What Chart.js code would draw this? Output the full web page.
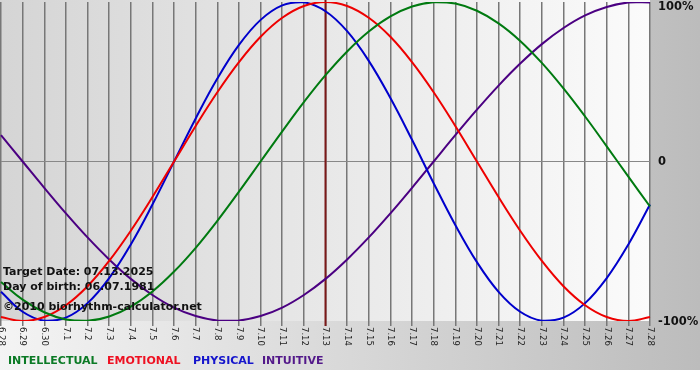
<!DOCTYPE html>
<html>
<head>
<meta charset="utf-8">
<script src="https://cdn.jsdelivr.net/npm/chart.js@4/dist/chart.umd.min.js"></script>
<style>
html,body{margin:0;padding:0;background:#fff;}
#wrap{width:700px;height:380px;position:relative;}
</style>
</head>
<body>
<div id="wrap"><canvas id="c" width="700" height="380"></canvas></div>
<script>
// ---- data ----
const dayLabels = ['6.28','6.29','6.30','7.1','7.2','7.3','7.4','7.5','7.6','7.7','7.8','7.9','7.10','7.11','7.12','7.13','7.14','7.15','7.16','7.17','7.18','7.19','7.20','7.21','7.22','7.23','7.24','7.25','7.26','7.27','7.28'];
const intellectual = [-75.6,-86.6,-94.5,-99.0,-99.9,-97.2,-91.0,-81.5,-69.0,-54.1,-37.2,-18.9,0,18.9,37.2,54.1,69.0,81.5,91.0,97.2,99.9,99.0,94.5,86.6,75.6,61.8,45.8,28.2,9.5,-9.5,-28.2];
const emotional = [-97.5,-100,-97.5,-90.1,-78.2,-62.3,-43.4,-22.3,0,22.3,43.4,62.3,78.2,90.1,97.5,100,97.5,90.1,78.2,62.3,43.4,22.3,0,-22.3,-43.4,-62.3,-78.2,-90.1,-97.5,-100,-97.5];
const physical = [-81.7,-94.2,-99.8,-97.9,-88.8,-73.1,-52.0,-27.0,0,27.0,52.0,73.1,88.8,97.9,99.8,94.2,81.7,63.1,39.8,13.6,-13.6,-39.8,-63.1,-81.7,-94.2,-99.8,-97.9,-88.8,-73.1,-52.0,-27.0];
const intuitive = [16.5,0,-16.5,-32.5,-47.6,-61.4,-73.6,-83.7,-91.6,-96.9,-99.7,-99.7,-96.9,-91.6,-83.7,-73.6,-61.4,-47.6,-32.5,-16.5,0,16.5,32.5,47.6,61.4,73.6,83.7,91.6,96.9,99.7,99.7];
const seriesNames = ['INTELLECTUAL','EMOTIONAL','PHYSICAL','INTUITIVE'];
const yTickValues = [100, 0, -100];
const yTickLabels = ['100%', '0', '-100%'];
const targetDay = '7.13';
const infoLines = ['Target Date: 07.13.2025', 'Day of birth: 06.07.1981', '\u00A92010 biorhythm-calculator.net'];

const colors = ['#007a10', '#ee0000', '#0000cc', '#4b0082'];
const legendColors = ['#0b7a25', '#ee1122', '#1515cc', '#53198a'];

const bgPlugin = {
  id: 'bg',
  beforeDraw(chart) {
    const ctx = chart.ctx, W = chart.width, H = chart.height, a = chart.chartArea;
    ctx.save();
    ctx.fillStyle = '#ffffff';
    ctx.fillRect(0, 0, W, H);
    let g = ctx.createLinearGradient(0, 0, W, 0);
    g.addColorStop(0, '#f4f4f4');
    g.addColorStop(1, '#bcbcbc');
    ctx.fillStyle = g;
    ctx.fillRect(0, 0, W, 370);
    g = ctx.createLinearGradient(a.left, 0, a.right, 0);
    g.addColorStop(0, '#d5d5d5');
    g.addColorStop(1, '#fbfbfb');
    ctx.fillStyle = g;
    ctx.fillRect(0, a.top - 2, a.right, a.bottom - a.top + 2);
    ctx.restore();
  },
  beforeDatasetsDraw(chart) {
    const ctx = chart.ctx, a = chart.chartArea, xs = chart.scales.x;
    const x = xs.getPixelForValue(dayLabels.indexOf(targetDay));
    ctx.save();
    ctx.strokeStyle = '#7a1818';
    ctx.lineWidth = 2;
    ctx.beginPath();
    ctx.moveTo(x, a.top - 2);
    ctx.lineTo(x, a.bottom + 5);
    ctx.stroke();
    ctx.restore();
  },
  afterDraw(chart) {
    const ctx = chart.ctx, a = chart.chartArea, xs = chart.scales.x, ys = chart.scales.y;
    ctx.save();
    // x labels rotated clockwise
    ctx.fillStyle = '#222';
    ctx.font = '8.5px "DejaVu Sans"';
    ctx.textAlign = 'left';
    ctx.textBaseline = 'middle';
    dayLabels.forEach((lab, i) => {
      const x = xs.getPixelForTick(i);
      ctx.save();
      ctx.translate(x, a.bottom + 6);
      ctx.rotate(Math.PI / 2);
      ctx.fillText(lab, 0, 0);
      ctx.restore();
    });
    // y labels
    ctx.fillStyle = '#111';
    ctx.font = 'bold 11.5px "DejaVu Sans"';
    yTickValues.forEach((v, i) => {
      let y = ys.getPixelForValue(v) + 1;
      y = Math.max(y, 7);
      ctx.fillText(yTickLabels[i], a.right + 8, y);
    });
    // info text
    ctx.fillStyle = '#111';
    ctx.font = 'bold 11px "DejaVu Sans"';
    const iy = [272, 287, 307];
    infoLines.forEach((t, i) => ctx.fillText(t, 3, iy[i]));
    // legend
    ctx.font = 'bold 11px "DejaVu Sans"';
    const lx = [8, 107, 193, 262];
    seriesNames.forEach((n, i) => {
      ctx.fillStyle = legendColors[i];
      ctx.fillText(n, lx[i], 361);
    });
    ctx.restore();
  }
};

const series = [intellectual, emotional, physical, intuitive];
new Chart(document.getElementById('c'), {
  type: 'line',
  data: {
    labels: dayLabels,
    datasets: series.map((d, i) => ({
      label: seriesNames[i],
      data: d,
      borderColor: colors[i],
      backgroundColor: colors[i],
      borderWidth: 2,
      pointRadius: 0,
      tension: 0.4,
      fill: false
    }))
  },
  options: {
    responsive: false,
    animation: false,
    layout: { padding: { left: 1, top: 2, right: 0, bottom: 0 } },
    plugins: { legend: { display: false }, tooltip: { enabled: false } },
    scales: {
      x: {
        type: 'category',
        offset: false,
        border: { display: false },
        grid: { color: '#777777', lineWidth: 1.5, drawTicks: true, tickLength: 5, offset: false },
        ticks: { display: false },
        afterFit(s) { s.height = 59; }
      },
      y: {
        position: 'right',
        min: -100,
        max: 100,
        border: { display: false },
        grid: {
          color: (c) => (c.tick && c.tick.value === 0 ? '#888888' : 'rgba(0,0,0,0)'),
          lineWidth: 1,
          drawTicks: false
        },
        ticks: { display: false, stepSize: 100 },
        afterFit(s) { s.width = 50; }
      }
    }
  },
  plugins: [bgPlugin]
});
</script>
</body>
</html>
